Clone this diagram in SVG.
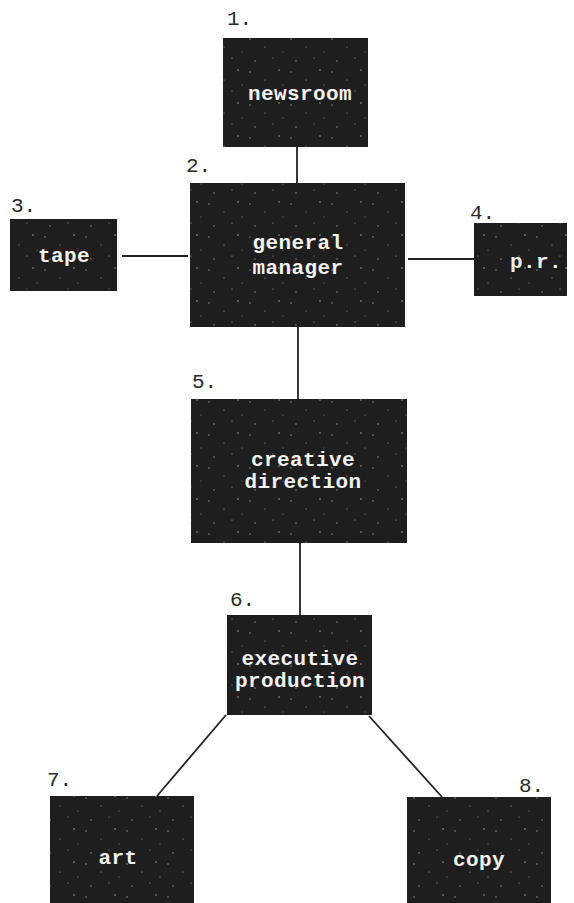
<svg xmlns="http://www.w3.org/2000/svg" width="574" height="903" viewBox="0 0 574 903">
  <style>
    .box { fill: #1e1e1e; }
    .specks { fill: url(#speckle); }
    .label { font-family: "Liberation Mono", "DejaVu Sans Mono", monospace; font-weight: bold; font-size: 21px; letter-spacing: 0.4px; fill: #f2f2f2; text-anchor: middle; }
    .num { font-family: "Liberation Mono", "DejaVu Sans Mono", monospace; font-size: 21px; fill: #2a2a2a; }
    .link { stroke: #222; stroke-width: 1.8; fill: none; }
  </style>
  <defs>
    <!-- sparse light specks scattered over the dark boxes -->
    <pattern id="speckle" width="41" height="33" patternUnits="userSpaceOnUse">
      <g fill="#d8d8d8" opacity="0.7">
        <circle cx="4" cy="6" r="0.7"/>
        <circle cx="19" cy="14" r="0.6"/>
        <circle cx="33" cy="4" r="0.8"/>
        <circle cx="27" cy="25" r="0.6"/>
        <circle cx="9" cy="28" r="0.7"/>
        <circle cx="37" cy="19" r="0.5"/>
      </g>
    </pattern>
  </defs>
  <rect width="574" height="903" fill="#ffffff"/>

  <g id="connectors">
    <line class="link" x1="297" y1="147" x2="297" y2="183"/>
    <line class="link" x1="122" y1="256" x2="188" y2="256"/>
    <line class="link" x1="408" y1="259" x2="474" y2="259"/>
    <line class="link" x1="298" y1="327" x2="298" y2="399"/>
    <line class="link" x1="300" y1="543" x2="300" y2="615"/>
    <line class="link" x1="226" y1="715" x2="157" y2="796"/>
    <line class="link" x1="369" y1="716" x2="442" y2="797"/>
  </g>

  <g id="n1">
    <text class="num" x="227" y="25">1.</text>
    <rect class="box" x="223" y="38" width="145" height="109"/>
    <rect class="specks" x="223" y="38" width="145" height="109"/>
    <text class="label" x="300" y="100">newsroom</text>
  </g>

  <g id="n2">
    <text class="num" x="186" y="172">2.</text>
    <rect class="box" x="190" y="183" width="215" height="144"/>
    <rect class="specks" x="190" y="183" width="215" height="144"/>
    <text class="label" x="298" y="249">general</text>
    <text class="label" x="298" y="274">manager</text>
  </g>

  <g id="n3">
    <text class="num" x="11" y="212">3.</text>
    <rect class="box" x="10" y="219" width="107" height="72"/>
    <rect class="specks" x="10" y="219" width="107" height="72"/>
    <text class="label" x="64" y="262">tape</text>
  </g>

  <g id="n4">
    <text class="num" x="470" y="219">4.</text>
    <rect class="box" x="474" y="223" width="93" height="73"/>
    <rect class="specks" x="474" y="223" width="93" height="73"/>
    <text class="label" x="536" y="268">p.r.</text>
  </g>

  <g id="n5">
    <text class="num" x="192" y="388">5.</text>
    <rect class="box" x="191" y="399" width="216" height="144"/>
    <rect class="specks" x="191" y="399" width="216" height="144"/>
    <text class="label" x="303" y="466">creative</text>
    <text class="label" x="303" y="488">direction</text>
  </g>

  <g id="n6">
    <text class="num" x="230" y="606">6.</text>
    <rect class="box" x="227" y="615" width="145" height="100"/>
    <rect class="specks" x="227" y="615" width="145" height="100"/>
    <text class="label" x="300" y="665">executive</text>
    <text class="label" x="300" y="687">production</text>
  </g>

  <g id="n7">
    <text class="num" x="47" y="786">7.</text>
    <rect class="box" x="50" y="796" width="144" height="107"/>
    <rect class="specks" x="50" y="796" width="144" height="107"/>
    <text class="label" x="118" y="864">art</text>
  </g>

  <g id="n8">
    <text class="num" x="519" y="792">8.</text>
    <rect class="box" x="407" y="797" width="144" height="106"/>
    <rect class="specks" x="407" y="797" width="144" height="106"/>
    <text class="label" x="479" y="866">copy</text>
  </g>
</svg>
